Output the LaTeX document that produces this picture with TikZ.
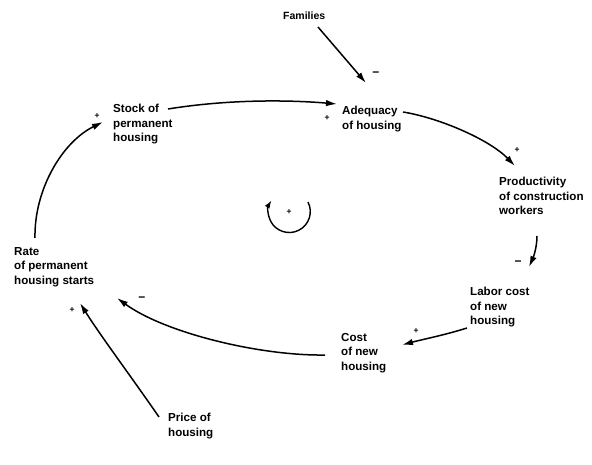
\documentclass[tikz,border=0pt]{standalone}
\usepackage{fontspec}
\setmainfont{Liberation Sans}
\usetikzlibrary{arrows.meta}
\tikzset{
  lab/.style={anchor=north west, inner sep=0pt, align=left,
    font=\bfseries\fontsize{11.6}{14.5}\selectfont},
  conn/.style={line width=1.5pt, -{Latex[length=11pt,width=6.5pt]}},
  sgn/.style={inner sep=0pt, font=\bfseries\fontsize{12}{12}\selectfont},
  psgn/.style={inner sep=0pt, font=\bfseries\fontsize{8.5}{8.5}\selectfont},
}
\begin{document}
\begin{tikzpicture}[x=1pt,y=-1pt]
\useasboundingbox (0,0) rectangle (592,465);
% nodes
\node[lab, font=\bfseries\fontsize{10.5}{13}\selectfont] (fam) at (283,12) {Families};
\node[lab] (stock) at (113,104) {Stock of\\permanent\\housing};
\node[lab] (adeq) at (342,106) {Adequacy\\of housing};
\node[lab] (prod) at (499,177) {Productivity\\of construction\\workers};
\node[lab] (rate) at (14,247) {Rate\\of permanent\\housing starts};
\node[lab] (labor) at (470,287) {Labor cost\\of new\\housing};
\node[lab] (cost) at (341,333) {Cost\\of new\\housing};
\node[lab] (price) at (168,413) {Price of\\housing};
% connector end points next to their nodes
\coordinate (famS) at (318,27);
\coordinate (adeqN) at (366,83);
\coordinate (stockE) at (168,109);
\coordinate (adeqW) at (337,104);
\coordinate (adeqE) at (403,112);
\coordinate (prodN) at (515,166);
\coordinate (prodS) at (537,236);
\coordinate (laborN) at (529,267);
\coordinate (laborW) at (467,328);
\coordinate (costE) at (402,345);
\coordinate (costW) at (325,355);
\coordinate (rateSE) at (117,298);
\coordinate (priceN) at (159,417);
\coordinate (rateS) at (80,303);
\coordinate (rateN) at (35,238);
\coordinate (stockW) at (103,122);
% connectors
\draw[conn] (famS) -- (adeqN);
\draw[conn] (stockE) .. controls (230,99) and (290,100) .. (adeqW);
\draw[conn] (adeqE) .. controls (440,118) and (490,140) .. (prodN);
\draw[conn] (prodS) .. controls (537,248) and (533,258) .. (laborN);
\draw[conn] (laborW) .. controls (445,335) and (420,340) .. (costE);
\draw[conn] (costW) .. controls (260,356) and (165,333) .. (rateSE);
\draw[conn] (priceN) .. controls (130,375) and (100,335) .. (rateS);
\draw[conn] (rateN) .. controls (34,190) and (62,142) .. (stockW);
% polarity signs
\node[sgn] (s1) at (376,74) {−};
\node[psgn] (s2) at (327,118) {+};
\node[psgn] (s3) at (517,150) {+};
\node[sgn] (s4) at (518,263) {−};
\node[psgn] (s5) at (416,331) {+};
\node[sgn] (s6) at (142,299) {−};
\node[psgn] (s7) at (72,310) {+};
\node[psgn] (s8) at (97,116) {+};
% loop symbol
\node[psgn] (loop) at (289,212) {+};
\draw[line width=1.4pt, -{Latex[length=8pt,width=5.5pt]}] (308,202) arc[start angle=27, end angle=-212, radius=21pt];
\end{tikzpicture}
\end{document}
